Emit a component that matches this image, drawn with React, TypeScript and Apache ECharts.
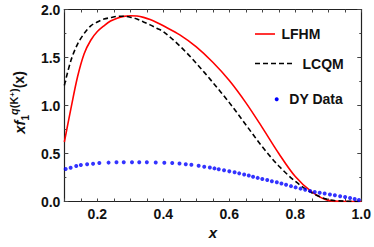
import React, { useEffect, useRef } from "react";
import * as echarts from "echarts";

const lfhmX = [0.10, 0.12, 0.14, 0.16, 0.18, 0.20, 0.22, 0.24, 0.26, 0.28, 0.30, 0.32, 0.34, 0.36, 0.38, 0.40, 0.45, 0.50, 0.55, 0.60, 0.65, 0.70, 0.75, 0.80, 0.85, 0.90, 0.95, 1.00];
const lfhmY = [0.62, 0.97, 1.30, 1.54, 1.68, 1.77, 1.83, 1.88, 1.91, 1.928, 1.935, 1.932, 1.918, 1.895, 1.865, 1.83, 1.735, 1.61, 1.45, 1.26, 1.03, 0.77, 0.50, 0.26, 0.10, 0.012, 0.0, 0.0];

const lcqmX = [0.10, 0.12, 0.14, 0.16, 0.18, 0.20, 0.22, 0.24, 0.26, 0.28, 0.30, 0.32, 0.34, 0.36, 0.38, 0.40, 0.45, 0.50, 0.55, 0.60, 0.65, 0.70, 0.75, 0.80, 0.85, 0.90, 0.95, 1.00];
const lcqmY = [1.21, 1.47, 1.64, 1.75, 1.83, 1.87, 1.90, 1.915, 1.928, 1.93, 1.92, 1.90, 1.87, 1.84, 1.805, 1.77, 1.62, 1.44, 1.24, 1.03, 0.80, 0.57, 0.37, 0.21, 0.09, 0.02, 0.003, 0.0];

const dyX = [0.104, 0.119, 0.136, 0.150, 0.169, 0.187, 0.206, 0.234, 0.258, 0.280, 0.305, 0.327, 0.350, 0.377, 0.403, 0.427, 0.449, 0.468, 0.485, 0.507, 0.524, 0.541, 0.555, 0.568, 0.584, 0.600, 0.616, 0.630, 0.645, 0.659, 0.672, 0.686, 0.700, 0.715, 0.729, 0.744, 0.758, 0.772, 0.787, 0.801, 0.816, 0.830, 0.845, 0.859, 0.874, 0.889, 0.905, 0.920, 0.936, 0.951, 0.966, 0.980, 0.993];
const dyY = [0.339, 0.352, 0.370, 0.380, 0.388, 0.394, 0.400, 0.405, 0.408, 0.408, 0.408, 0.408, 0.408, 0.406, 0.404, 0.400, 0.395, 0.389, 0.382, 0.372, 0.363, 0.354, 0.345, 0.335, 0.325, 0.314, 0.304, 0.293, 0.282, 0.270, 0.258, 0.246, 0.234, 0.223, 0.212, 0.200, 0.187, 0.174, 0.160, 0.147, 0.134, 0.122, 0.110, 0.100, 0.091, 0.083, 0.074, 0.065, 0.055, 0.046, 0.037, 0.026, 0.015];

const seriesNames = ["LFHM", "LCQM", "DY Data"];
const yTickLabels = ["0.0", "0.5", "1.0", "1.5", "2.0"];
const xTickLabels = ["0.2", "0.4", "0.6", "0.8", "1.0"];

const FONT = "'Liberation Sans', Arial, sans-serif";

export default function App() {
  const ref = useRef<HTMLDivElement>(null);
  useEffect(() => {
    document.body.style.margin = "0";
    const chart = echarts.init(ref.current!, null, { renderer: "svg" });
    const axisLineStyle = { color: "#222", width: 1.2 };
    const xBase = (pos: "bottom" | "top", showLabel: boolean) => ({
      type: "value",
      position: pos,
      min: 0.1,
      max: 1.0,
      interval: 0.05,
      axisLine: { show: true, onZero: false, lineStyle: axisLineStyle },
      axisTick: { show: true, inside: true, length: 3, lineStyle: { color: "#444", width: 1 } },
      splitLine: { show: false },
      axisLabel: {
        show: showLabel,
        margin: 5,
        fontFamily: FONT,
        fontWeight: "bold",
        fontSize: 14,
        color: "#111",
        showMinLabel: true,
        showMaxLabel: true,
        formatter: (v: number) => {
          const k = v / 0.2;
          if (Math.abs(k - Math.round(k)) < 1e-6) {
            const s = v.toFixed(1);
            return xTickLabels.includes(s) ? s : "";
          }
          return "";
        },
      },
    });
    const yBase = (pos: "left" | "right", showLabel: boolean) => ({
      type: "value",
      position: pos,
      min: 0,
      max: 2,
      interval: 0.5,
      axisLine: { show: true, onZero: false, lineStyle: axisLineStyle },
      axisTick: { show: true, inside: true, length: 4, lineStyle: { color: "#444", width: 1 } },
      minorTick: { show: true, splitNumber: 2, length: 2, lineStyle: { color: "#444", width: 1 } },
      splitLine: { show: false },
      axisLabel: {
        show: showLabel,
        margin: 4,
        fontFamily: FONT,
        fontWeight: "bold",
        fontSize: 14,
        color: "#111",
        formatter: (v: number) => yTickLabels[Math.round(v / 0.5)] ?? "",
      },
    });

    const xAxes: any[] = [
      {
        ...xBase("bottom", true),
        name: "x",
        nameLocation: "middle",
        nameGap: 20,
        nameTextStyle: { fontFamily: FONT, fontWeight: "bold", fontStyle: "italic", fontSize: 15, color: "#111" },
      },
      xBase("top", false),
    ];
    const yAxes: any[] = [
      {
        ...yBase("left", true),
        name: "{i|xf}{sub|1}{supi|q}{sup|(K}{sup2|+}{sup|)}{n|(x)}",
        nameLocation: "middle",
        nameGap: 28,
        nameRotate: 90,
        nameTextStyle: {
          fontFamily: FONT,
          fontWeight: "bold",
          fontSize: 14,
          color: "#111",
          padding: [0, 0, 0, 6],
          rich: {
            i: { fontFamily: FONT, fontWeight: "bold", fontStyle: "italic", fontSize: 15, color: "#111", lineHeight: 22, verticalAlign: "middle" },
            n: { fontFamily: FONT, fontWeight: "bold", fontSize: 14, color: "#111", lineHeight: 22, verticalAlign: "middle" },
            sub: { fontFamily: FONT, fontWeight: "bold", fontSize: 10, color: "#111", lineHeight: 10, verticalAlign: "bottom" },
            supi: { fontFamily: FONT, fontWeight: "bold", fontStyle: "italic", fontSize: 11, color: "#111", lineHeight: 11, verticalAlign: "top" },
            sup: { fontFamily: FONT, fontWeight: "bold", fontSize: 11, color: "#111", lineHeight: 11, verticalAlign: "top" },
            sup2: { fontFamily: FONT, fontWeight: "bold", fontSize: 8, color: "#111", lineHeight: 7, verticalAlign: "top" },
          },
        },
      },
      yBase("right", false),
    ];

    const legendText = (x: number, y: number, t: string) => ({
      type: "text",
      x,
      y,
      style: { text: t, fontFamily: FONT, fontWeight: "bold", fontSize: 14, fill: "#111", verticalAlign: "middle", align: "left" },
    });

    chart.setOption({
      animation: false,
      grid: { left: 51, right: 12, top: 9.5, bottom: 45.5 },
      xAxis: xAxes,
      yAxis: yAxes,
      series: [
        {
          name: seriesNames[0],
          type: "line",
          data: lfhmX.map((x, i) => [x, lfhmY[i]]),
          smooth: 0.33,
          showSymbol: false,
          lineStyle: { color: "#ff0000", width: 1.6 },
          z: 3,
        },
        {
          name: seriesNames[1],
          type: "line",
          data: lcqmX.map((x, i) => [x, lcqmY[i]]),
          smooth: 0.33,
          showSymbol: false,
          lineStyle: { color: "#000000", width: 1.6, type: [5, 3] },
          z: 3,
        },
        {
          name: seriesNames[2],
          type: "scatter",
          data: dyX.map((x, i) => [x, dyY[i]]),
          symbol: "circle",
          symbolSize: 4,
          itemStyle: { color: "#0000ff" },
          z: 4,
        },
      ],
      graphic: [
        { type: "line", shape: { x1: 255, y1: 34, x2: 275, y2: 34 }, style: { stroke: "#ff0000", lineWidth: 1.6 } },
        legendText(281.5, 34, seriesNames[0]),
        { type: "line", shape: { x1: 255, y1: 63.5, x2: 294, y2: 63.5 }, style: { stroke: "#000", lineWidth: 1.6, lineDash: [5, 3] } },
        legendText(302.5, 63.5, seriesNames[1]),
        { type: "circle", shape: { cx: 276.7, cy: 99.3, r: 2 }, style: { fill: "#0000ff" } },
        legendText(289.3, 99.3, seriesNames[2]),
      ],
    });
    return () => chart.dispose();
  }, []);
  return <div ref={ref} style={{ width: 374, height: 247 }} />;
}
